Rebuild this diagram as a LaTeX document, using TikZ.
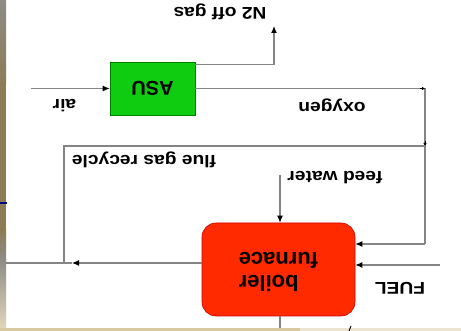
\documentclass[tikz,border=0pt]{standalone}
\usepackage{fontspec}
\setmainfont{Liberation Sans}
\usetikzlibrary{arrows.meta}
\definecolor{asugreen}{HTML}{10CC10}
\definecolor{boilred}{HTML}{FF2A00}
\definecolor{linegray}{HTML}{858585}
\definecolor{slidegold}{HTML}{8C7B55}
\definecolor{slidegray}{HTML}{8E8C86}
\definecolor{slidebeige}{HTML}{D8C9A0}
\tikzset{
  flow/.style={draw=linegray, line width=1.1pt},
  tip/.style={-{Latex[length=7pt,width=6pt,color=black]}, draw=linegray, line width=1.1pt},
  tinytip/.style={-{Latex[length=3pt,width=3.5pt]}, draw=black, line width=0.8pt},
  lbl/.style={font=\fontsize{17}{19}\selectfont\bfseries, text=black, inner sep=0pt, rotate=180, xscale=1.13},
  asubox/.style={draw=green!50!black, line width=0.6pt, fill=asugreen, minimum width=85pt, minimum height=53pt, inner sep=0pt},
  boilbox/.style={draw=red!80!black, line width=0.6pt, fill=boilred, rounded corners=14pt, minimum width=153pt, minimum height=93pt, inner sep=0pt}
}
\begin{document}
\begin{tikzpicture}[x=1pt, y=-1pt]
\useasboundingbox (0,0) rectangle (461,331);
% slide background
\fill[white] (0,0) rectangle (461,331);
\fill[top color=slidegray, bottom color=slidegold] (0,0) rectangle (6,85);
\fill[slidegold] (0,85) rectangle (6,230);
\fill[top color=slidegold, bottom color=slidegray] (0,230) rectangle (6,260);
\fill[top color=slidegray, bottom color=slidebeige!70!white] (0,260) rectangle (6,331);
\fill[slidebeige] (0,328) rectangle (300,331);
\fill[slidebeige!50!white] (300,328) rectangle (461,331);
\draw[blue!50!black, line width=1.4pt] (0,203) -- (7,203);
\draw[black, line width=1pt] (349,331) -- (351,326);

% blocks
\node[asubox] (asu) at (152.5,88.5) {\fontsize{20}{22}\selectfont\bfseries\rotatebox{180}{ASU}};
\node[boilbox] (boiler) at (278.5,269.5) {\fontsize{22}{26}\selectfont\bfseries\rotatebox{180}{\begin{tabular}{@{}r@{}}boiler\\[-3pt]furnace\end{tabular}}};

% coordinates
\coordinate (n2end) at (274,26);
\coordinate (airin) at (31,88.5);
\coordinate (oxcorner) at (425,88.5);
\coordinate (oxdown) at (425,244);
\coordinate (recyc) at (425,146);
\coordinate (recycleft) at (64,146);
\coordinate (recycbot) at (64,263);
\coordinate (exhtip) at (72,263);
\coordinate (exhend) at (6,263);
\coordinate (fw) at (280,175);
\coordinate (fuel) at (440,265);
\coordinate (bottom) at (280,328);

% connectors
\draw[tip] ([yshift=-3pt]asu.north east) -| (n2end);
\draw[tip] (airin) -- (asu.west);
\draw[flow] (asu.east) -- (oxcorner) -- (oxdown);
\draw[tip] (oxdown) -- (oxdown -| boiler.east);
\draw[tinytip] ([xshift=-5pt]oxcorner) -- (oxcorner);
\draw[tinytip] ([yshift=5pt]recyc) -- (recyc);
\draw[flow] (recyc) -- (recycleft) -- (recycbot);
\draw[tip] (exhtip -| boiler.west) -- (exhtip);
\draw[flow] (exhtip) -- (exhend);
\draw[tip] (fw) -- (fw |- boiler.north);
\draw[tip] (fuel) -- (fuel -| boiler.east);
\draw[flow] (bottom -| fw) -- (fw |- boiler.south);

% labels
\node[lbl] (n2lbl) at (220,12) {N2 off gas};
\node[lbl] (airlbl) at (64.5,106) {air};
\node[lbl] (oxlbl) at (332,105) {oxygen};
\node[lbl] (fglbl) at (144,160) {flue gas recycle};
\node[lbl] (fwlbl) at (335,178) {feed water};
\node[lbl] (fuellbl) at (400,288) {FUEL};
\end{tikzpicture}
\end{document}
